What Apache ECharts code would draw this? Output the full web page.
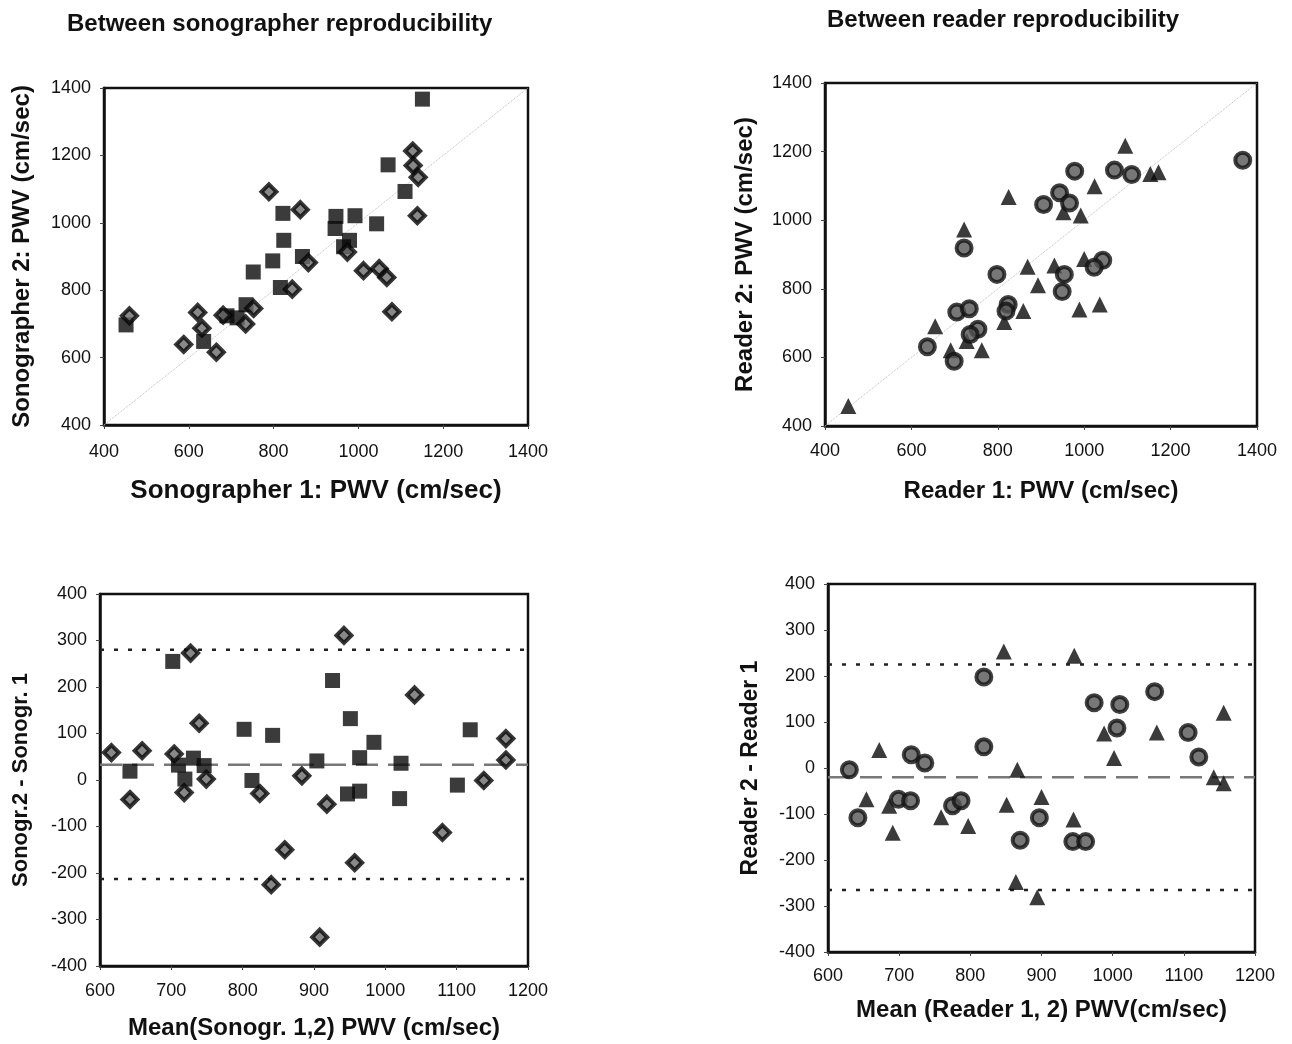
<!DOCTYPE html>
<html>
<head>
<meta charset="utf-8">
<script src="https://cdn.jsdelivr.net/npm/echarts@6/dist/echarts.min.js"></script>
<style>
  html, body { margin: 0; padding: 0; background: #fff; }
  #chart { width: 1292px; height: 1044px; }
</style>
</head>
<body>
<div id="chart"></div>
<script>
// sonographer 1 vs sonographer 2 (PWV, cm/sec)
var sonoSquares = [
  [1151, 1367], [1070, 1172], [1110, 1093], [822, 1028], [947, 1019], [992, 1021],
  [1043, 997], [945, 983], [824, 948], [979, 948], [965, 929], [868, 900],
  [798, 887], [752, 854], [816, 808], [735, 757], [690, 724], [714, 718],
  [452, 697], [635, 648]
];
var sonoDiamonds = [
  [1128, 1213], [1129, 1170], [1141, 1135], [789, 1092], [863, 1039], [1139, 1021],
  [974, 913], [882, 882], [1012, 858], [1049, 864], [1067, 838], [844, 803],
  [1079, 736], [753, 746], [460, 724], [621, 734], [681, 726], [734, 700],
  [631, 687], [588, 639], [665, 616]
];
// reader 1 vs reader 2
var readerTriangles = [
  [454, 458], [1095, 1217], [1153, 1135], [1172, 1140], [1024, 1099], [825, 1068],
  [952, 1023], [992, 1014], [722, 973], [1000, 887], [869, 864], [931, 868],
  [893, 810], [1036, 754], [989, 740], [859, 735], [655, 691], [815, 703],
  [728, 648], [691, 621], [763, 621]
];
var readerCircles = [
  [1367, 1175], [978, 1143], [1070, 1146], [1110, 1133], [943, 1080], [966, 1050],
  [906, 1046], [722, 919], [1043, 883], [1023, 863], [798, 842], [954, 842],
  [949, 792], [824, 754], [819, 735], [705, 732], [734, 742], [754, 682],
  [736, 667], [637, 631], [699, 589]
];
// Bland-Altman: sonographers
var baSonoSquares = [
  [702, 255], [926, 214], [951, 132], [802, 109], [842, 96], [984, 81],
  [1119, 108], [964, 48], [904, 41], [1022, 36], [731, 47], [710, 32],
  [746, 31], [642, 19], [719, 2], [813, -1], [1101, -11], [947, -30],
  [964, -24], [1020, -40]
];
var baSonoDiamonds = [
  [942, 311], [727, 273], [1041, 183], [739, 122], [1169, 89], [616, 59],
  [659, 63], [704, 56], [1169, 43], [883, 9], [749, 2], [1138, -1],
  [718, -27], [824, -29], [642, -42], [918, -52], [1080, -113], [859, -150],
  [957, -178], [840, -225], [908, -338]
];
var baSonoMean = 33, baSonoUpper = 280, baSonoLower = -213;
// Bland-Altman: readers
var baReaderTriangles = [
  [847, 253], [946, 244], [1156, 120], [988, 75], [1062, 77], [1002, 22],
  [672, 39], [866, -4], [1142, -20], [1156, -33], [654, -68], [900, -63],
  [686, -82], [851, -80], [759, -107], [797, -126], [945, -112], [691, -141],
  [864, -248], [894, -281]
];
var baReaderCircles = [
  [819, 198], [1059, 166], [974, 142], [1010, 138], [1006, 87], [1106, 77],
  [1121, 24], [819, 46], [717, 29], [736, 11], [630, -4], [699, -68],
  [716, -71], [775, -82], [787, -71], [642, -108], [897, -108], [870, -157],
  [944, -160], [962, -160]
];
var baReaderMean = -20, baReaderUpper = 225, baReaderLower = -265;

var ticks1 = [400, 1400, 200];
var ticksBA = [600, 1200, 100];
var ticksDiff = [-400, 400, 100];

var chart = echarts.init(document.getElementById('chart'));
var txt = '#111';
var font = 'Liberation Sans, Arial, sans-serif';

function ax(gi, r, name, size, gap, margin) {
  return {
    gridIndex: gi, type: 'value', min: r[0], max: r[1], interval: r[2],
    name: name, nameLocation: 'middle', nameGap: gap,
    nameTextStyle: { fontSize: size, fontWeight: 'bold', color: txt, fontFamily: font },
    axisLine: { onZero: false, lineStyle: { color: '#111', width: 2.5 } },
    axisTick: { show: true, length: 4, lineStyle: { color: '#444' } },
    axisLabel: {
      fontSize: 18, color: txt, fontFamily: font, margin: margin,
      formatter: function (v) { return String(v); }
    },
    splitLine: { show: false }
  };
}
function lineSeries(xi, pts, color, width, dash) {
  return {
    type: 'line', xAxisIndex: xi, yAxisIndex: xi, data: pts, symbol: 'none',
    silent: true, z: 1,
    lineStyle: { color: color, width: width, type: dash }
  };
}
function hline(xi, r, v, color, width, dash) {
  return lineSeries(xi, [[r[0], v], [r[1], v]], color, width, dash);
}
function scat(xi, pts, symbol, size, style) {
  return {
    type: 'scatter', xAxisIndex: xi, yAxisIndex: xi, data: pts,
    symbol: symbol, symbolSize: size, itemStyle: style, z: 3
  };
}

var squareStyle = { color: '#0a0a0a' };
var diamondStyle = { color: '#6a6a6a', borderColor: '#050505', borderWidth: 4 };
var circleStyle = { color: '#555', borderColor: '#111', borderWidth: 4 };
var triStyle = { color: '#0a0a0a' };

chart.setOption({
  backgroundColor: '#fff',
  animation: false,
  title: [
    { text: 'Between sonographer reproducibility', left: 62, top: 7,
      textStyle: { fontSize: 24, fontWeight: 'bold', color: txt, fontFamily: font } },
    { text: 'Between reader reproducibility', left: 822, top: 3,
      textStyle: { fontSize: 24, fontWeight: 'bold', color: txt, fontFamily: font } }
  ],
  grid: [
    { left: 104, top: 88, width: 424, height: 337, show: true, borderColor: '#111', borderWidth: 2.5 },
    { left: 825, top: 83, width: 432, height: 343, show: true, borderColor: '#111', borderWidth: 2.5 },
    { left: 100, top: 594, width: 428, height: 372, show: true, borderColor: '#111', borderWidth: 2.5 },
    { left: 828, top: 584, width: 427, height: 368, show: true, borderColor: '#111', borderWidth: 2.5 }
  ],
  xAxis: [
    ax(0, ticks1, 'Sonographer 1: PWV (cm/sec)', 26, 53, 18),
    ax(1, ticks1, 'Reader 1: PWV (cm/sec)', 24, 53, 16),
    ax(2, ticksBA, 'Mean(Sonogr. 1,2) PWV (cm/sec)', 24, 50, 16),
    ax(3, ticksBA, 'Mean (Reader 1, 2) PWV(cm/sec)', 24, 46, 15)
  ],
  yAxis: [
    ax(0, ticks1, 'Sonographer 2: PWV (cm/sec)', 24, 70, 13),
    ax(1, ticks1, 'Reader 2: PWV (cm/sec)', 24, 68, 13),
    ax(2, ticksDiff, 'Sonogr.2 - Sonogr. 1', 22, 68, 13),
    ax(3, ticksDiff, 'Reader 2 - Reader 1', 23, 66, 13)
  ],
  series: [
    lineSeries(0, [[400, 400], [1400, 1400]], '#bbb', 1, 'dotted'),
    scat(0, sonoSquares, 'rect', 15, squareStyle),
    scat(0, sonoDiamonds, 'diamond', 15, diamondStyle),

    lineSeries(1, [[400, 400], [1400, 1400]], '#bbb', 1, 'dotted'),
    scat(1, readerTriangles, 'triangle', 16, triStyle),
    scat(1, readerCircles, 'circle', 15, circleStyle),

    hline(2, ticksBA, baSonoUpper, '#222', 2.5, [4, 10]),
    hline(2, ticksBA, baSonoLower, '#222', 2.5, [4, 10]),
    hline(2, ticksBA, baSonoMean, '#777', 2.5, [22, 10]),
    scat(2, baSonoSquares, 'rect', 15, squareStyle),
    scat(2, baSonoDiamonds, 'diamond', 15, diamondStyle),

    hline(3, ticksBA, baReaderUpper, '#222', 2.5, [4, 10]),
    hline(3, ticksBA, baReaderLower, '#222', 2.5, [4, 10]),
    hline(3, ticksBA, baReaderMean, '#777', 2.5, [22, 10]),
    scat(3, baReaderTriangles, 'triangle', 16, triStyle),
    scat(3, baReaderCircles, 'circle', 15, circleStyle)
  ]
});
</script>
</body>
</html>
